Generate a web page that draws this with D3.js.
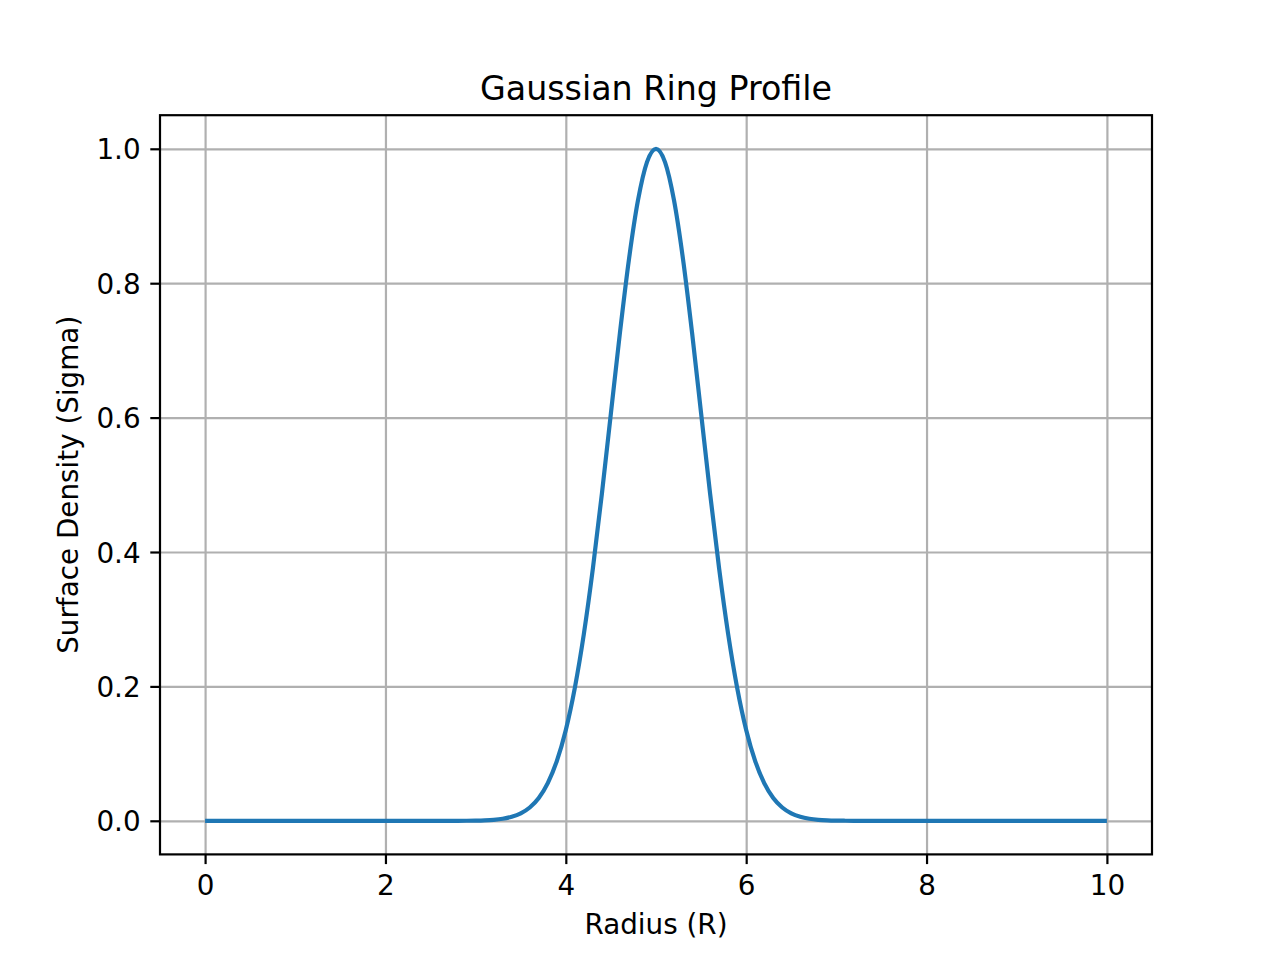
<!DOCTYPE html>
<html>
<head>
<meta charset="utf-8">
<script src="https://cdn.jsdelivr.net/npm/d3@7"></script>
<style>
  html, body { margin: 0; padding: 0; background: #fff; }
  svg text { font-family: "DejaVu Sans", sans-serif; fill: #000; }
</style>
</head>
<body>
<svg id="chart" width="1280" height="960"></svg>
<script>
// ---- data ----
const radius = [
  0.0,0.1,0.2,0.3,0.4,0.5,0.6,0.7,0.8,0.9,
  1.0,1.1,1.2,1.3,1.4,1.5,1.6,1.7,1.8,1.9,
  2.0,2.1,2.2,2.3,2.4,2.5,2.6,2.7,2.8,2.9,
  3.0,3.1,3.2,3.3,3.4,3.5,3.6,3.7,3.8,3.9,
  4.0,4.1,4.2,4.3,4.4,4.5,4.6,4.7,4.8,4.9,
  5.0,5.1,5.2,5.3,5.4,5.5,5.6,5.7,5.8,5.9,
  6.0,6.1,6.2,6.3,6.4,6.5,6.6,6.7,6.8,6.9,
  7.0,7.1,7.2,7.3,7.4,7.5,7.6,7.7,7.8,7.9,
  8.0,8.1,8.2,8.3,8.4,8.5,8.6,8.7,8.8,8.9,
  9.0,9.1,9.2,9.3,9.4,9.5,9.6,9.7,9.8,9.9,
  10.0
];
const sigma = [
  0,0,0,0,0,0,0,0,0,0,
  0,0,0,0,0,0,0,0,0,0,
  0,0,0,0,0,0,0,0,0,0.0001,
  0.0003,0.0007,0.0015,0.0031,0.0060,0.0111,0.0198,0.0340,0.0561,0.0889,
  0.1353,0.1979,0.2780,0.3753,0.4868,0.6065,0.7261,0.8353,0.9231,0.9802,
  1.0000,0.9802,0.9231,0.8353,0.7261,0.6065,0.4868,0.3753,0.2780,0.1979,
  0.1353,0.0889,0.0561,0.0340,0.0198,0.0111,0.0060,0.0031,0.0015,0.0007,
  0.0003,0.0001,0,0,0,0,0,0,0,0,
  0,0,0,0,0,0,0,0,0,0,
  0,0,0,0,0,0,0,0,0,0,
  0
];
const xTicks = [0, 2, 4, 6, 8, 10];
const yTicks = [0.0, 0.2, 0.4, 0.6, 0.8, 1.0];
const titleText = "Gaussian Ring Profile";
const xLabelText = "Radius (R)";
const yLabelText = "Surface Density (Sigma)";

// ---- layout ----
const mLeft = 160, mRight = 1152, mTop = 115.2, mBottom = 854.4;
const svg = d3.select("#chart");
const x = d3.scaleLinear().domain([-0.5, 10.5]).range([mLeft, mRight]);
const y = d3.scaleLinear().domain([-0.05, 1.05]).range([mBottom, mTop]);

const gridColor = "#b0b0b0", gridW = 2.2, spineW = 2.2, tickLen = 9.7, pad = 9.7;
const fontSize = 27.8;

// grid
const xGridG = svg.append("g").attr("transform", `translate(0,${mBottom})`)
  .call(d3.axisBottom(x).tickValues(xTicks)
        .tickSizeInner(-(mBottom - mTop)).tickSizeOuter(0).tickPadding(0));
xGridG.select(".domain").remove();
xGridG.selectAll("line").attr("stroke", gridColor).attr("stroke-width", gridW);
xGridG.selectAll("text").remove();

const yGridG = svg.append("g").attr("transform", `translate(${mLeft},0)`)
  .call(d3.axisLeft(y).tickValues(yTicks)
        .tickSizeInner(-(mRight - mLeft)).tickSizeOuter(0).tickPadding(0));
yGridG.select(".domain").remove();
yGridG.selectAll("line").attr("stroke", gridColor).attr("stroke-width", gridW);
yGridG.selectAll("text").remove();

// line
const pts = radius.map((r, i) => [r, sigma[i]]);
svg.append("path")
  .datum(pts)
  .attr("fill", "none")
  .attr("stroke", "#1f77b4")
  .attr("stroke-width", 4.2)
  .attr("stroke-linejoin", "round")
  .attr("stroke-linecap", "butt")
  .attr("d", d3.line().x(d => x(d[0])).y(d => y(d[1])).curve(d3.curveMonotoneX));

// ticks + labels
const xTickAxis = svg.append("g").attr("transform", `translate(0,${mBottom})`)
  .call(d3.axisBottom(x).tickValues(xTicks).tickFormat(d3.format("d"))
        .tickSizeInner(tickLen).tickSizeOuter(0).tickPadding(pad));
xTickAxis.select(".domain").remove();
xTickAxis.selectAll("line").attr("stroke", "#000").attr("stroke-width", spineW);
xTickAxis.selectAll("text").attr("font-size", fontSize).attr("font-family", "DejaVu Sans")
  .attr("dy", "0.76em").attr("fill", "#000");

const yTickAxis = svg.append("g").attr("transform", `translate(${mLeft},0)`)
  .call(d3.axisLeft(y).tickValues(yTicks).tickFormat(d3.format(".1f"))
        .tickSizeInner(tickLen).tickSizeOuter(0).tickPadding(pad));
yTickAxis.select(".domain").remove();
yTickAxis.selectAll("line").attr("stroke", "#000").attr("stroke-width", spineW);
yTickAxis.selectAll("text").attr("font-size", fontSize).attr("font-family", "DejaVu Sans")
  .attr("dy", "0.36em").attr("fill", "#000");

// spines
svg.append("rect").attr("x", mLeft).attr("y", mTop)
  .attr("width", mRight - mLeft).attr("height", mBottom - mTop)
  .attr("fill", "none").attr("stroke", "#000").attr("stroke-width", spineW);

// title & labels
svg.append("text").attr("x", (mLeft + mRight) / 2).attr("y", 99.5)
  .attr("text-anchor", "middle").attr("font-size", 33.3).text(titleText);
svg.append("text").attr("x", (mLeft + mRight) / 2).attr("y", 934)
  .attr("text-anchor", "middle").attr("font-size", fontSize).text(xLabelText);
svg.append("text").attr("transform", `translate(78,${(mTop + mBottom) / 2}) rotate(-90)`)
  .attr("text-anchor", "middle").attr("font-size", fontSize).text(yLabelText);
</script>
</body>
</html>
